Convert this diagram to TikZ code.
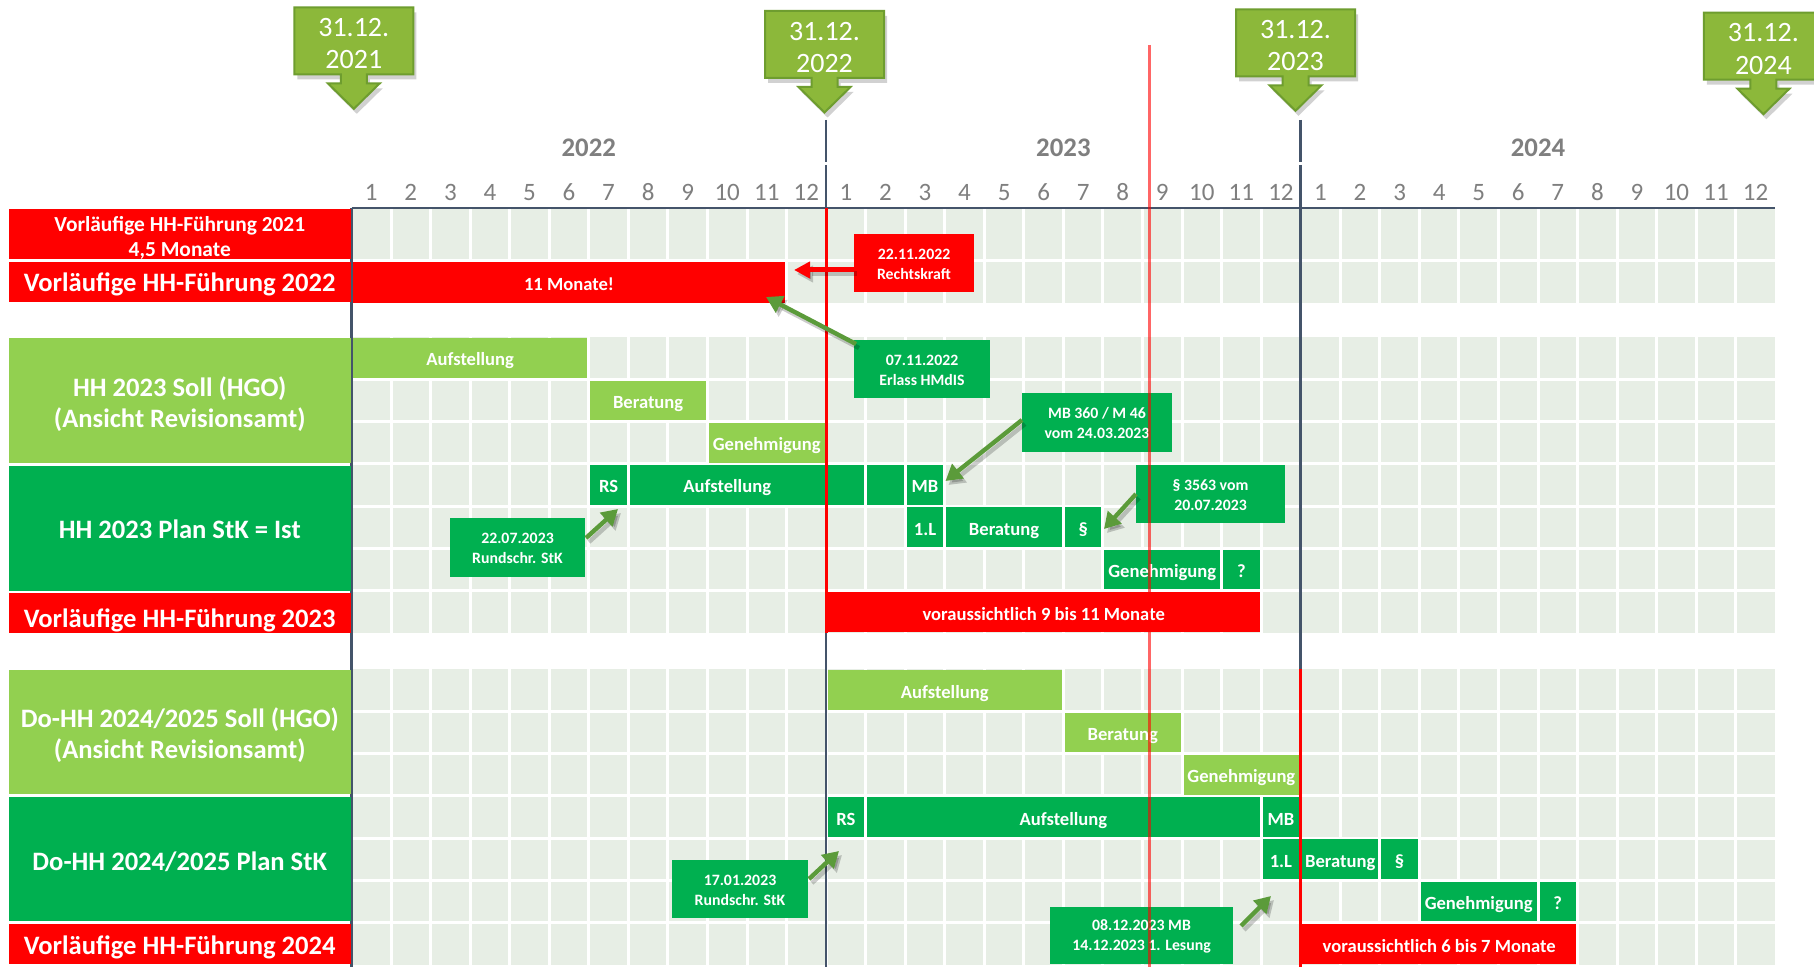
\documentclass[tikz,border=0pt]{standalone}
\usepackage{fontspec}
\setmainfont{Carlito}
\usetikzlibrary{arrows.meta,calc}
\definecolor{cred}{HTML}{FF0000}
\definecolor{clg}{HTML}{92D050}
\definecolor{cg}{HTML}{00B050}
\definecolor{ccell}{HTML}{E7EEE5}
\definecolor{cdark}{HTML}{44546A}
\definecolor{cmonth}{HTML}{7F7F7F}
\definecolor{carrow}{HTML}{5B9B3A}
\definecolor{ccall}{HTML}{8CB83A}
\definecolor{ccallb}{HTML}{6E9D2F}
\newcommand\lblfont{\fontsize{13.3}{15.6}\selectfont\bfseries}
\newcommand\smalllblfont{\fontsize{10.7}{12.3}\selectfont\bfseries}
\newcommand\barfont{\fontsize{9.3}{11}\selectfont\bfseries}
\newcommand\notefont{\fontsize{7.9}{10}\selectfont\bfseries}
\newcommand\callfont{\fontsize{14}{16.2}\selectfont}
\tikzset{
  boxbase/.style={inner sep=0pt,outer sep=0pt},
  lbl/.style={inner sep=0pt,outer sep=0pt,text=white,font=\lblfont,align=center},
  lbl1/.style={lbl,text height=8.6pt,text depth=0pt},
  barbase/.style={inner sep=0pt,outer sep=0pt,text=white,font=\barfont,text height=8pt,text depth=0pt},
  rbar/.style={barbase,fill=cred},
  lgbar/.style={barbase,fill=clg},
  gbar/.style={barbase,fill=cg},
  note/.style={inner sep=0pt,outer sep=0pt,text=white,font=\notefont,align=center},
  garrow/.style={draw=carrow,line width=2.2pt,-{Triangle[length=8pt,width=9pt]}},
  rarrow/.style={draw=cred,line width=2.5pt,-{Triangle[length=8pt,width=8pt]}},
  shadowed/.style={draw=black,opacity=.2,transform canvas={xshift=1.5pt,yshift=-2pt}},
  divl/.style={draw=cdark,line width=1.25pt},
  redl/.style={draw=cred,line width=1.5pt},
  cellline/.style={draw=white,line width=1.5pt},
  month/.style={inner sep=0pt,text=cmonth,font=\fontsize{12.5}{14}\selectfont},
  yearl/.style={inner sep=0pt,text=cmonth,font=\fontsize{13.4}{15}\selectfont\bfseries},
  callshape/.style={fill=ccall,draw=ccallb,line width=1pt},
  calltext/.style={inner sep=0pt,text=white,font=\callfont,align=center},
}
% box with explicit extents (pixel units)
\newcommand\xbox[7]{%
  \pgfmathsetmacro\myBX{(#2+#3)/2}%
  \pgfmathsetmacro\myBY{(#4+#5)/2}%
  \pgfmathsetmacro\myBW{(#3-#2)/2}%
  \pgfmathsetmacro\myBH{(#5-#4)/2}%
  \node[#6,minimum width=\myBW pt,minimum height=\myBH pt] (#1) at (\myBX,\myBY) {#7};}
% box with separately placed (shifted) text
\newcommand\tbox[9]{%
  \xbox{#1}{#2}{#3}{#4}{#5}{boxbase,#6}{}%
  \node[#7] (#1t) at ($(#1.center)+(0,#8)$) {#9};}
% bar between month columns and row boundaries
\newcommand\cbar[7]{%
  \pgfmathsetmacro\myCA{351.5+39.55*#2+1.5}%
  \pgfmathsetmacro\myCB{351.5+39.55*#3-1.5}%
  \pgfmathsetmacro\myCC{#4+1.3}%
  \pgfmathsetmacro\myCD{#5-1.3}%
  \xbox{#1}{\myCA}{\myCB}{\myCC}{\myCD}{#6}{#7}}
% down arrow callout
\newcommand\dcall[5]{%
  \pgfmathsetmacro\dcXl{#2-59.5}\pgfmathsetmacro\dcXr{#2+59.5}%
  \pgfmathsetmacro\dcYb{#3+67}%
  \pgfmathsetmacro\dcNl{#2-13}\pgfmathsetmacro\dcNr{#2+13}%
  \pgfmathsetmacro\dcHl{#2-26}\pgfmathsetmacro\dcHr{#2+26}%
  \pgfmathsetmacro\dcYn{#3+76}\pgfmathsetmacro\dcYt{#3+101.5}%
  \pgfmathsetmacro\dcYc{#3+36.5}%
  \fill[black,opacity=.18,transform canvas={xshift=1.5pt,yshift=-2.5pt}] (\dcXl,#3) -- (\dcXr,#3) -- (\dcXr,\dcYb) -- (\dcNr,\dcYb) -- (\dcNr,\dcYn) -- (\dcHr,\dcYn) -- (#2,\dcYt) -- (\dcHl,\dcYn) -- (\dcNl,\dcYn) -- (\dcNl,\dcYb) -- (\dcXl,\dcYb) -- cycle;
  \draw[callshape] (\dcXl,#3) -- (\dcXr,#3) -- (\dcXr,\dcYb) -- (\dcNr,\dcYb) -- (\dcNr,\dcYn) -- (\dcHr,\dcYn) -- (#2,\dcYt) -- (\dcHl,\dcYn) -- (\dcNl,\dcYn) -- (\dcNl,\dcYb) -- (\dcXl,\dcYb) -- cycle;
  \node[calltext] (#1) at (#2,\dcYc) {#4\\#5};}
\begin{document}
\begin{tikzpicture}[x=0.5pt,y=-0.5pt]
\clip (0,0) rectangle (1814,967);
\fill[white] (0,0) rectangle (1814,967);
% grid sections
\foreach \t/\b in {208/303,337.3/632.7,669.3/964.7}{
  \fill[ccell] (351.5,\t) rectangle (1775,\b);
  \foreach \k in {1,...,35}{
    \draw[cellline] ({351.5+39.55*\k},\t) -- ({351.5+39.55*\k},\b);
  }
}
\foreach \y in {260.8,379.5,421.7,463.9,506.1,548.3,590.5,711.5,753.7,795.9,838.1,880.3,922.5}{
  \draw[cellline] (351.5,\y) -- (1775,\y);
}
% dark lines
\draw[divl] (351.5,208) -- (1775,208);
\draw[divl] (351.5,208) -- (351.5,967);
\draw[divl] (826.1,120) -- (826.1,162);
\draw[divl] (826.1,165) -- (826.1,967);
\draw[divl] (1300.7,120) -- (1300.7,162);
\draw[divl] (1300.7,165) -- (1300.7,967);
% row labels
\tbox{l21}{9}{350.5}{209}{259.5}{fill=cred}{lbl,font=\smalllblfont}{3.5}{Vorläufige HH-Führung 2021\\4,5 Monate}
\tbox{l22}{9}{350.5}{262.5}{302}{fill=cred}{lbl1}{0.5}{Vorläufige HH-Führung 2022}
\tbox{ls23}{9}{350.5}{338}{463}{fill=clg}{lbl}{3.5}{HH 2023 Soll (HGO)\\(Ansicht Revisionsamt)}
\tbox{lp23}{9}{350.5}{466}{590.5}{fill=cg}{lbl1}{1.7}{HH 2023 Plan StK = Ist}
\tbox{lv23}{9}{350.5}{593}{633}{fill=cred}{lbl1}{5.5}{Vorläufige HH-Führung 2023}
\tbox{ls24}{9}{350.5}{669.5}{794}{fill=clg}{lbl}{3.5}{Do-HH 2024/2025 Soll (HGO)\\(Ansicht Revisionsamt)}
\tbox{lp24}{9}{350.5}{797}{921}{fill=cg}{lbl1}{2.7}{Do-HH 2024/2025 Plan StK}
\tbox{lv24}{9}{350.5}{924}{964}{fill=cred}{lbl1}{1.5}{Vorläufige HH-Führung 2024}
% bars section 1
\cbar{b11}{0}{11}{260.8}{304}{rbar}{11 Monate!}
% bars section 2
\cbar{sa23}{0}{6}{336.5}{379.5}{lgbar}{Aufstellung}
\cbar{sb23}{6}{9}{379.5}{421.7}{lgbar}{Beratung}
\cbar{sg23}{9}{12}{421.7}{463.9}{lgbar}{Genehmigung}
\cbar{prs23}{6}{7}{463.9}{506.1}{gbar}{RS}
\cbar{pa23}{7}{12}{463.9}{506.1}{gbar}{Aufstellung}
\cbar{pe23a}{12}{13}{463.9}{506.1}{gbar}{}
\cbar{pe23b}{13}{14}{463.9}{506.1}{gbar}{}
\cbar{pmb23}{14}{15}{463.9}{506.1}{gbar}{MB}
\cbar{pl23}{14}{15}{506.1}{548.3}{gbar}{1.L}
\cbar{pb23}{15}{18}{506.1}{548.3}{gbar}{Beratung}
\cbar{pp23}{18}{19}{506.1}{548.3}{gbar}{§}
\cbar{pg23}{19}{22}{548.3}{590.5}{gbar}{Genehmigung}
\cbar{pq23}{22}{23}{548.3}{590.5}{gbar}{?}
\cbar{v23}{12}{23}{590.5}{633.5}{rbar}{voraussichtlich 9 bis 11 Monate}
% bars section 3
\cbar{sa24}{12}{18}{668.5}{711.5}{lgbar}{Aufstellung}
\cbar{sb24}{18}{21}{711.5}{753.7}{lgbar}{Beratung}
\cbar{sg24}{21}{24}{753.7}{795.9}{lgbar}{Genehmigung}
\cbar{prs24}{12}{13}{795.9}{838.1}{gbar}{RS}
\cbar{pa24}{13}{23}{795.9}{838.1}{gbar}{Aufstellung}
\cbar{pmb24}{23}{24}{795.9}{838.1}{gbar}{MB}
\cbar{pl24}{23}{24}{838.1}{880.3}{gbar}{1.L}
\cbar{pb24}{24}{26}{838.1}{880.3}{gbar}{Beratung}
\cbar{pp24}{26}{27}{838.1}{880.3}{gbar}{§}
\cbar{pg24}{27}{30}{880.3}{922.5}{gbar}{Genehmigung}
\cbar{pq24}{30}{31}{880.3}{922.5}{gbar}{?}
\cbar{v24}{24}{31}{922.5}{965.5}{rbar}{voraussichtlich 6 bis 7 Monate}
% red overlay lines
\draw[redl] (826.1,208) -- (826.1,633);
\draw[redl] (1300.7,669) -- (1300.7,967);
% notes
\tbox{rk}{854}{974}{234}{292}{fill=cred}{note}{1.2}{22.11.2022\\Rechtskraft}
\tbox{erl}{854}{990}{340}{398.5}{fill=cg}{note}{1.2}{07.11.2022\\Erlass HMdIS}
\tbox{mb}{1022}{1172}{393}{452}{fill=cg}{note}{0.5}{MB 360 / M 46\\vom 24.03.2023}
\tbox{par}{1136}{1285}{465}{523}{fill=cg}{note}{1.2}{§ 3563 vom\\20.07.2023}
\tbox{rs1}{450}{585}{518}{577}{fill=cg}{note}{1.2}{22.07.2023\\Rundschr. StK}
\tbox{rs2}{672}{808}{860}{918}{fill=cg}{note}{1.2}{17.01.2023\\Rundschr. StK}
\tbox{mb2}{1050}{1233}{907}{964}{fill=cg}{note}{1.2}{08.12.2023 MB\\14.12.2023 1. Lesung}
% arrow ends
\coordinate (rkt) at (794,270);
\coordinate (erlt) at (766,297);
\coordinate (mbt) at (945.5,481);
\coordinate (part) at (1104,529);
\coordinate (rs1t) at (618,509);
\coordinate (rs2t) at (839,851);
\coordinate (mb2t) at (1271,896);
\coordinate (rks) at (rk.west |- rkt);
\coordinate (erls) at ($(erl.north west)+(2,4)$);
\coordinate (mbs) at ($(mb.west)+(0,-2.5)$);
\coordinate (pars) at (par.west);
\coordinate (rs1s) at ($(rs1.east)+(1,-9.5)$);
\coordinate (rs2s) at ($(rs2.east)+(1,-10)$);
\coordinate (mb2s) at ($(mb2.east)+(8,-9.5)$);
% arrows (shadow + arrow)
\draw[rarrow,shadowed] (rks) -- (rkt);
\draw[rarrow] (rks) -- (rkt);
\foreach \s/\e in {erls/erlt,mbs/mbt,pars/part,rs1s/rs1t,rs2s/rs2t,mb2s/mb2t}{
  \draw[garrow,shadowed] (\s) -- (\e);
  \draw[garrow] (\s) -- (\e);
}
% months and years
\foreach \k in {0,...,35}{
  \pgfmathtruncatemacro\mon{mod(\k,12)+1}
  \node[month] (m\k) at ({351.5+39.55*(\k+0.5)},192.5) {\mon};
}
\node[yearl] (y22) at (588.8,148) {2022};
\node[yearl] (y23) at (1063.4,148) {2023};
\node[yearl] (y24) at (1538,148) {2024};
% top callouts
\dcall{c21}{353.8}{7.3}{31.12.}{2021}
\dcall{c22}{824.5}{11}{31.12.}{2022}
\dcall{c23}{1295.5}{9.3}{31.12.}{2023}
\dcall{c24}{1763.4}{12.7}{31.12.}{2024}
% today line
\draw[draw=cred,opacity=.6,line width=1.5pt] (1149,45) -- (1149,967);
\end{tikzpicture}
\end{document}
